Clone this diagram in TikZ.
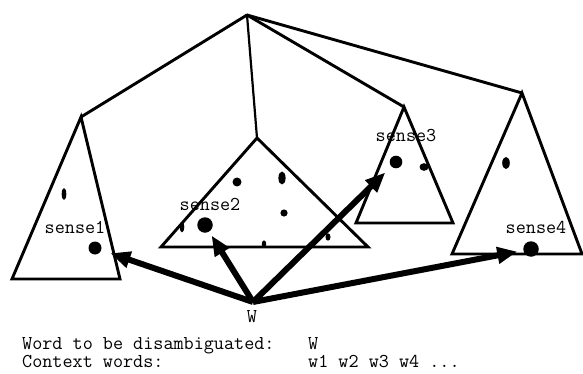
\documentclass[tikz,border=0pt]{standalone}
\usepackage{fontspec}
\usetikzlibrary{arrows.meta,positioning}

\begin{document}
\begin{tikzpicture}[x=1pt,y=-1pt,
      edge/.style={line width=2.9pt,line cap=round},
      tri/.style={line width=2.9pt,line join=miter},
      lbl/.style={font=\fontsize{19.6}{21}\selectfont\ttfamily,inner sep=0pt,anchor=base},
      txt/.style={lbl,anchor=base west},
      bigdot/.style={circle,fill,inner sep=0pt,minimum size=#1},
      pointer/.style={-{Triangle[length=20pt,width=16pt]},line width=6pt,shorten >=#1},
  ]
  \useasboundingbox (0,0) rectangle (583,374);

  % Tree: root and apexes of the sense triangles
  \coordinate (root) at (247,15);
  \coordinate (a1) at (81,117);
  \coordinate (a2) at (257,138);
  \coordinate (a3) at (404,107);
  \coordinate (a4) at (522,93);
  \draw[edge] (root) -- (a1);
  \draw[edge,line width=2.2pt] (root) -- (a2);
  \draw[edge] (root) -- (a3);
  \draw[edge] (root) -- (a4);

  % Sense triangles
  \draw[tri] (a1) -- (12,279) -- (120,279) -- cycle;
  \draw[tri] (a2) -- (161,247) -- (368,247) -- cycle;
  \draw[tri] (a3) -- (356,223) -- (453,223) -- cycle;
  \draw[tri] (a4) -- (452,254) -- (582,254) -- cycle;

  % Other words inside the triangles
  \fill (64,194) ellipse [x radius=2.3pt,y radius=6pt];
  \fill (237,182) circle [radius=4.5pt];
  \fill (282,178) ellipse [x radius=3.6pt,y radius=6.5pt];
  \fill (284,213) circle [radius=3.6pt];
  \fill (182,227) ellipse [x radius=2.3pt,y radius=5.3pt];
  \fill (264,244) ellipse [x radius=2.2pt,y radius=3.6pt];
  \fill (328,237) ellipse [x radius=2.5pt,y radius=3.7pt];
  \fill (424,167) ellipse [x radius=4.5pt,y radius=3.8pt];
  \fill (506,163) ellipse [x radius=3.8pt,y radius=6pt];

  % Sense words
  \node[bigdot=13pt] (s1) at (95,248) {};
  \node[bigdot=15.5pt] (s2) at (205,225) {};
  \node[bigdot=12.6pt] (s3) at (396,162) {};
  \node[bigdot=15.5pt] (s4) at (531,249) {};
  \node[lbl] (l1) at (75,233) {sense1};
  \node[lbl] (l2) at (210,211) {sense2};
  \node[lbl] (l3) at (406,142) {sense3};
  \node[lbl] (l4) at (536,233) {sense4};

  % Target word and links
  \node[lbl] (w) at (252,322) {W};
  \coordinate (wtop) at (253,302);
  \draw[pointer=9.5pt] (wtop) -- (s1);
  \draw[pointer=4.5pt] (wtop) -- (s2);
  \draw[pointer=8.5pt] (wtop) -- (s3);
  \draw[pointer=6pt] (wtop) -- (s4);

  % Legend
  \node[txt] (k1) at (22,349) {Word to be disambiguated:};
  \node[txt] (v1) at (308,349) {W};
  \node[txt] (k2) at (22,367) {Context words:};
  \node[txt] (v2) at (308,367) {w1 w2 w3 w4 ...};
\end{tikzpicture}
\end{document}
